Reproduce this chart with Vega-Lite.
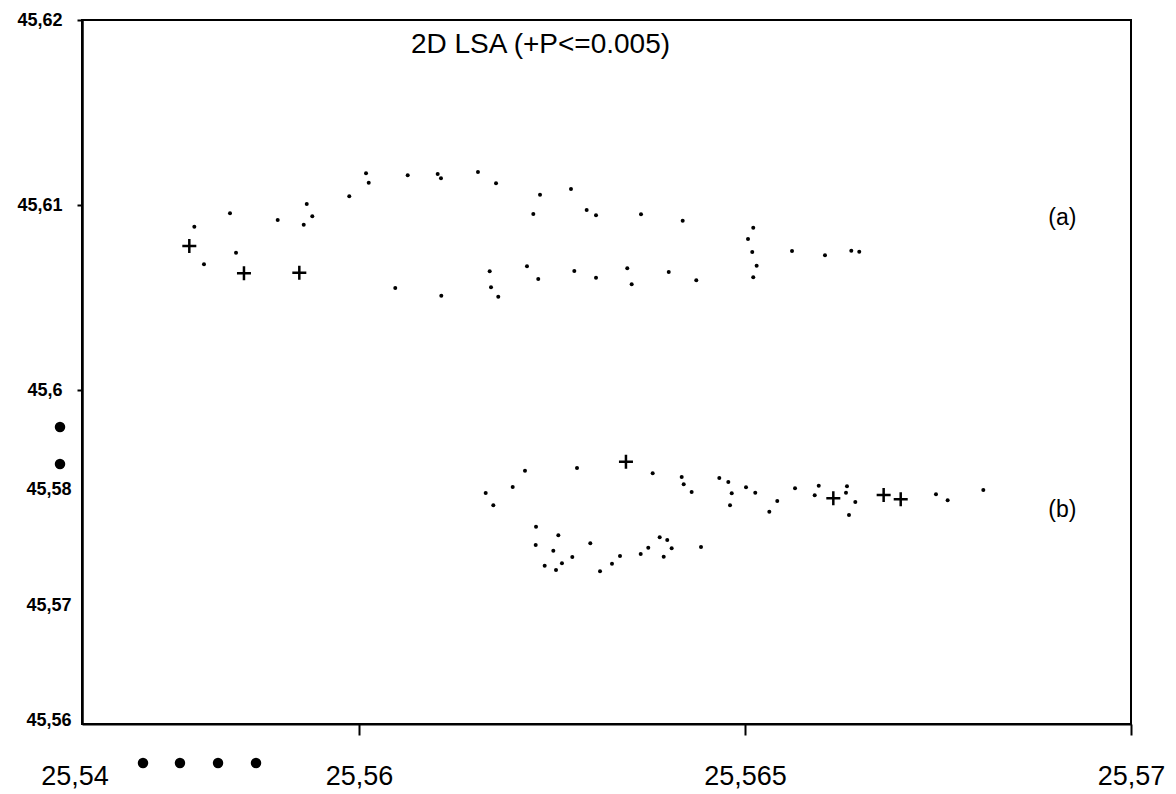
{
  "$schema": "https://vega.github.io/schema/vega-lite/v6.json",
  "width": 1049,
  "height": 704,
  "autosize": "none",
  "padding": {"left": 82, "top": 20, "right": 45, "bottom": 70},
  "background": "white",
  "view": {"stroke": "black", "strokeWidth": 2, "fill": "white"},
  "title": {
    "text": "2D LSA (+P<=0.005)",
    "font": "Liberation Sans",
    "fontSize": 28,
    "fontWeight": "normal",
    "color": "black",
    "anchor": "middle",
    "baseline": "alphabetic",
    "offset": 0,
    "dx": -66,
    "dy": 70
  },
  "datasets": {
    "pts": [
      {"x": 25.557802, "y": 45.607784, "k": "plus"},
      {"x": 25.557867, "y": 45.608827, "k": "dot"},
      {"x": 25.558329, "y": 45.609551, "k": "dot"},
      {"x": 25.558407, "y": 45.607422, "k": "dot"},
      {"x": 25.557992, "y": 45.606795, "k": "dot"},
      {"x": 25.55851, "y": 45.606308, "k": "plus"},
      {"x": 25.559227, "y": 45.606341, "k": "plus"},
      {"x": 25.558947, "y": 45.609189, "k": "dot"},
      {"x": 25.559323, "y": 45.610054, "k": "dot"},
      {"x": 25.559395, "y": 45.609389, "k": "dot"},
      {"x": 25.559284, "y": 45.608935, "k": "dot"},
      {"x": 25.559874, "y": 45.61047, "k": "dot"},
      {"x": 25.560091, "y": 45.611714, "k": "dot"},
      {"x": 25.560126, "y": 45.611205, "k": "dot"},
      {"x": 25.560631, "y": 45.611605, "k": "dot"},
      {"x": 25.561019, "y": 45.611676, "k": "dot"},
      {"x": 25.561062, "y": 45.611443, "k": "dot"},
      {"x": 25.561541, "y": 45.611784, "k": "dot"},
      {"x": 25.561775, "y": 45.611173, "k": "dot"},
      {"x": 25.562345, "y": 45.610557, "k": "dot"},
      {"x": 25.562746, "y": 45.610865, "k": "dot"},
      {"x": 25.562258, "y": 45.609514, "k": "dot"},
      {"x": 25.562949, "y": 45.60973, "k": "dot"},
      {"x": 25.56307, "y": 45.609443, "k": "dot"},
      {"x": 25.563653, "y": 45.609497, "k": "dot"},
      {"x": 25.564193, "y": 45.609151, "k": "dot"},
      {"x": 25.565107, "y": 45.608773, "k": "dot"},
      {"x": 25.565039, "y": 45.608162, "k": "dot"},
      {"x": 25.565094, "y": 45.607459, "k": "dot"},
      {"x": 25.565151, "y": 45.606719, "k": "dot"},
      {"x": 25.565107, "y": 45.606092, "k": "dot"},
      {"x": 25.565609, "y": 45.607514, "k": "dot"},
      {"x": 25.566036, "y": 45.607281, "k": "dot"},
      {"x": 25.566377, "y": 45.60753, "k": "dot"},
      {"x": 25.56648, "y": 45.607476, "k": "dot"},
      {"x": 25.56047, "y": 45.605514, "k": "dot"},
      {"x": 25.561066, "y": 45.605097, "k": "dot"},
      {"x": 25.561693, "y": 45.606416, "k": "dot"},
      {"x": 25.56171, "y": 45.605551, "k": "dot"},
      {"x": 25.561804, "y": 45.605043, "k": "dot"},
      {"x": 25.562176, "y": 45.606686, "k": "dot"},
      {"x": 25.562322, "y": 45.606, "k": "dot"},
      {"x": 25.562789, "y": 45.606432, "k": "dot"},
      {"x": 25.56307, "y": 45.60607, "k": "dot"},
      {"x": 25.563475, "y": 45.606578, "k": "dot"},
      {"x": 25.563532, "y": 45.605714, "k": "dot"},
      {"x": 25.564012, "y": 45.606378, "k": "dot"},
      {"x": 25.564369, "y": 45.60593, "k": "dot"},
      {"x": 25.561641, "y": 45.594432, "k": "dot"},
      {"x": 25.56174, "y": 45.593767, "k": "dot"},
      {"x": 25.561991, "y": 45.594757, "k": "dot"},
      {"x": 25.56215, "y": 45.595638, "k": "dot"},
      {"x": 25.562824, "y": 45.595784, "k": "dot"},
      {"x": 25.563458, "y": 45.596124, "k": "plus"},
      {"x": 25.563804, "y": 45.595497, "k": "dot"},
      {"x": 25.56418, "y": 45.595297, "k": "dot"},
      {"x": 25.564206, "y": 45.594903, "k": "dot"},
      {"x": 25.564309, "y": 45.594486, "k": "dot"},
      {"x": 25.564667, "y": 45.595243, "k": "dot"},
      {"x": 25.564784, "y": 45.595027, "k": "dot"},
      {"x": 25.564828, "y": 45.594416, "k": "dot"},
      {"x": 25.564806, "y": 45.593767, "k": "dot"},
      {"x": 25.565013, "y": 45.594741, "k": "dot"},
      {"x": 25.565133, "y": 45.594449, "k": "dot"},
      {"x": 25.562293, "y": 45.592611, "k": "dot"},
      {"x": 25.562582, "y": 45.592146, "k": "dot"},
      {"x": 25.562289, "y": 45.591622, "k": "dot"},
      {"x": 25.562517, "y": 45.591314, "k": "dot"},
      {"x": 25.562405, "y": 45.590503, "k": "dot"},
      {"x": 25.562552, "y": 45.59027, "k": "dot"},
      {"x": 25.562629, "y": 45.590632, "k": "dot"},
      {"x": 25.562763, "y": 45.590973, "k": "dot"},
      {"x": 25.562996, "y": 45.591714, "k": "dot"},
      {"x": 25.563122, "y": 45.5902, "k": "dot"},
      {"x": 25.563277, "y": 45.590611, "k": "dot"},
      {"x": 25.563381, "y": 45.591027, "k": "dot"},
      {"x": 25.563649, "y": 45.591135, "k": "dot"},
      {"x": 25.563747, "y": 45.591476, "k": "dot"},
      {"x": 25.563895, "y": 45.592038, "k": "dot"},
      {"x": 25.563993, "y": 45.591892, "k": "dot"},
      {"x": 25.56405, "y": 45.591443, "k": "dot"},
      {"x": 25.563947, "y": 45.590989, "k": "dot"},
      {"x": 25.56443, "y": 45.591514, "k": "dot"},
      {"x": 25.565418, "y": 45.594, "k": "dot"},
      {"x": 25.565315, "y": 45.593422, "k": "dot"},
      {"x": 25.565648, "y": 45.594686, "k": "dot"},
      {"x": 25.565955, "y": 45.594827, "k": "dot"},
      {"x": 25.565903, "y": 45.594308, "k": "dot"},
      {"x": 25.566144, "y": 45.594146, "k": "plus"},
      {"x": 25.566321, "y": 45.594795, "k": "dot"},
      {"x": 25.566308, "y": 45.594449, "k": "dot"},
      {"x": 25.566429, "y": 45.593946, "k": "dot"},
      {"x": 25.566347, "y": 45.593243, "k": "dot"},
      {"x": 25.566796, "y": 45.594324, "k": "plus"},
      {"x": 25.567017, "y": 45.594092, "k": "plus"},
      {"x": 25.567474, "y": 45.594362, "k": "dot"},
      {"x": 25.567625, "y": 45.594038, "k": "dot"},
      {"x": 25.568087, "y": 45.594595, "k": "dot"}
    ],
    "marks": [
      {"x": 25.556127, "y": 45.598},
      {"x": 25.556127, "y": 45.596},
      {"x": 25.557202, "y": 45.579838},
      {"x": 25.557681, "y": 45.579838},
      {"x": 25.558174, "y": 45.579838},
      {"x": 25.558666, "y": 45.579838}
    ],
    "groups": [
      {"x": 25.56911, "y": 45.609297, "label": "(a)"},
      {"x": 25.56911, "y": 45.593514, "label": "(b)"}
    ],
    "extra": [
      {"x": 25.556321, "y": 45.579081, "label": "25,54"}
    ]
  },
  "encoding": {
    "x": {
      "field": "x",
      "type": "quantitative",
      "scale": {"domain": [25.556412, 25.57], "nice": false, "zero": false},
      "axis": {
        "title": null,
        "grid": false,
        "values": [25.56, 25.565, 25.57],
        "labelExpr": "replace(format(datum.value, '.3~f'), '.', ',')",
        "labelFlush": false,
        "labelOverlap": false,
        "labelFont": "Liberation Sans",
        "labelFontSize": 27,
        "labelColor": "black",
        "labelPadding": 28,
        "domainColor": "black",
        "domainWidth": 2,
        "tickColor": "black",
        "tickWidth": 2,
        "tickSize": 11
      }
    },
    "y": {
      "field": "y",
      "type": "quantitative",
      "scale": {"domain": [45.581946, 45.62], "nice": false, "zero": false},
      "axis": {
        "title": null,
        "grid": false,
        "values": [45.62, 45.61, 45.6, 45.594595, 45.588378, 45.582162],
        "labelExpr": "datum.value > 45.615 ? '45,62' : datum.value > 45.605 ? '45,61' : datum.value > 45.597 ? '45,6' : datum.value > 45.591 ? '45,58' : datum.value > 45.585 ? '45,57' : '45,56'",
        "labelOverlap": false,
        "labelFlush": false,
        "labelFont": "Liberation Sans",
        "labelFontSize": 18,
        "labelFontWeight": "bold",
        "labelColor": "black",
        "labelPadding": {"condition": {"test": "datum.value < 45.597", "value": 6}, "value": 15},
        "tickOpacity": {"condition": {"test": "datum.value < 45.597", "value": 0}, "value": 1},
        "domainColor": "black",
        "domainWidth": 2.5,
        "tickColor": "black",
        "tickWidth": 2,
        "tickSize": 5
      }
    }
  },
  "layer": [
    {
      "data": {"name": "pts"},
      "transform": [{"filter": "datum.k == 'dot'"}],
      "mark": {"type": "point", "shape": "circle", "filled": true, "color": "black", "size": 16, "opacity": 1}
    },
    {
      "data": {"name": "pts"},
      "transform": [{"filter": "datum.k == 'plus'"}],
      "mark": {"type": "point", "shape": "M-1,0L1,0M0,-1L0,1", "filled": false, "color": "black", "strokeWidth": 2.5, "size": 196, "opacity": 1}
    },
    {
      "data": {"name": "marks"},
      "mark": {"type": "point", "shape": "circle", "filled": true, "color": "black", "size": 110, "opacity": 1}
    },
    {
      "data": {"name": "groups"},
      "mark": {"type": "text", "font": "Liberation Sans", "fontSize": 23, "color": "black", "align": "center", "baseline": "middle"},
      "encoding": {"text": {"field": "label"}}
    },
    {
      "data": {"name": "extra"},
      "mark": {"type": "text", "font": "Liberation Sans", "fontSize": 27, "color": "black", "align": "center", "baseline": "middle"},
      "encoding": {"text": {"field": "label"}}
    }
  ]
}
